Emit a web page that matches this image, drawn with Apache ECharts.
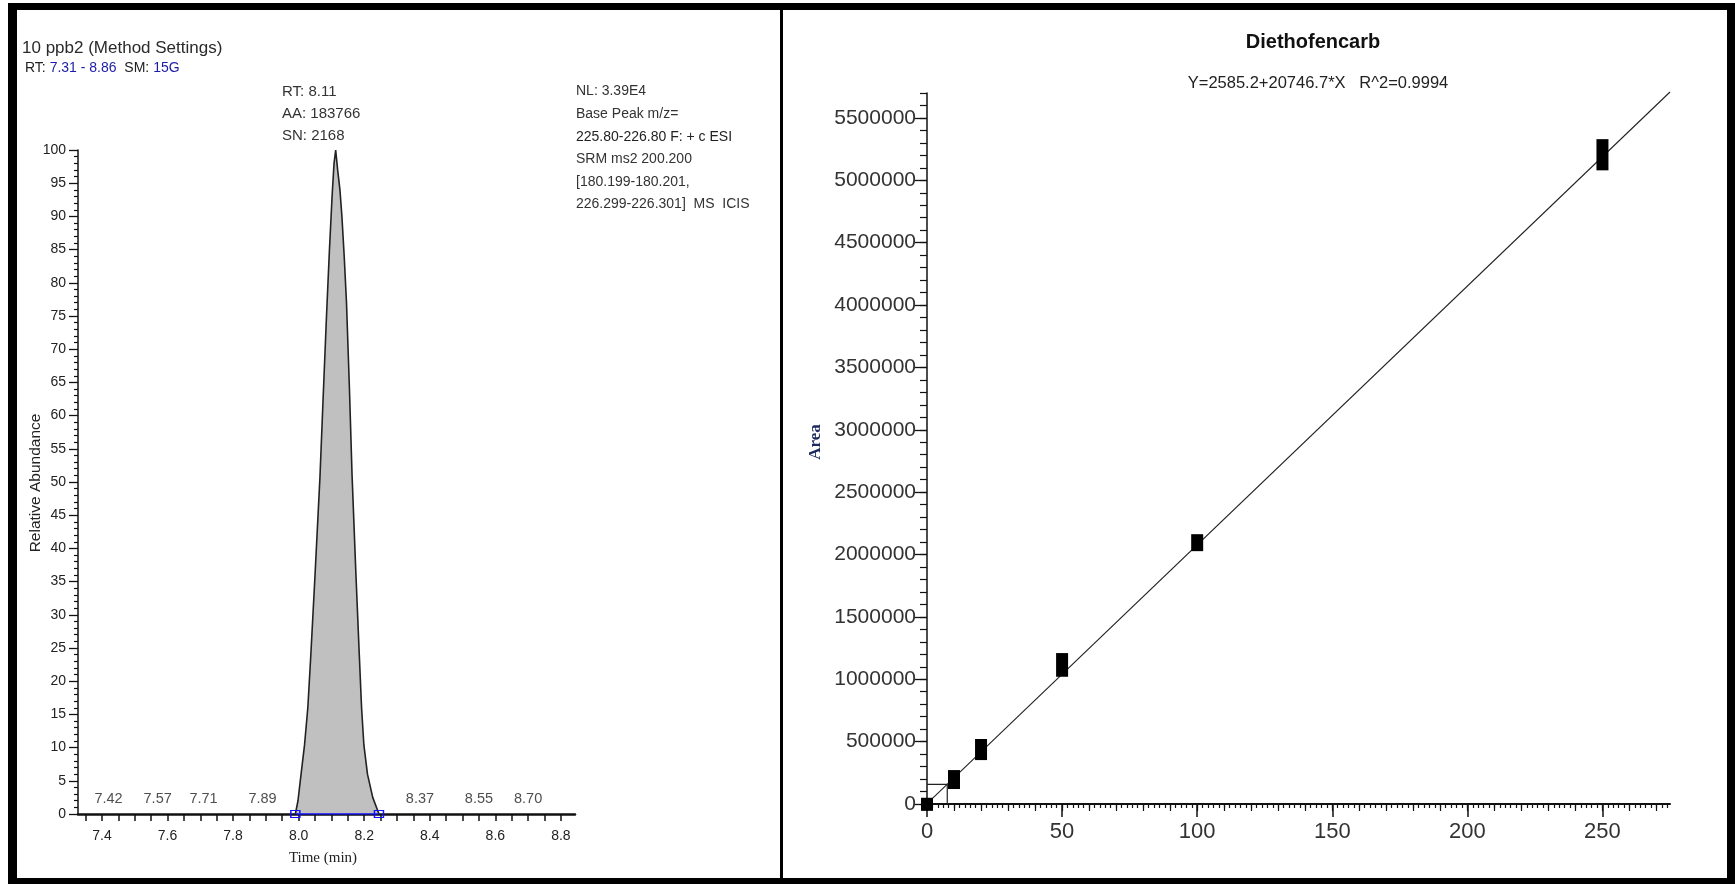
<!DOCTYPE html>
<html>
<head>
<meta charset="utf-8">
<script src="https://cdn.jsdelivr.net/npm/echarts@6/dist/echarts.min.js"></script>
<style>
  html, body { margin: 0; padding: 0; background: #fff; }
  #main { width: 1735px; height: 884px; }
</style>
</head>
<body>
<div id="main"></div>
<script>
// chromatogram peak (time in min, relative abundance %)
const peakTime = [7.990, 7.998, 8.005, 8.018, 8.028, 8.037, 8.050, 8.065, 8.075, 8.085, 8.094, 8.102, 8.108, 8.113,
                  8.119, 8.126, 8.132, 8.139, 8.146, 8.155, 8.163, 8.174, 8.185, 8.192, 8.199, 8.210, 8.226, 8.245];
const peakAbund = [0, 2, 5, 10.4, 16, 23.8, 36, 50.7, 63, 75, 85, 93, 98, 100,
                   97, 94, 90, 84, 77, 64, 51, 37, 24, 16, 10.4, 6, 2.5, 0];
// integration limits
const baseTime = [7.99, 8.245];
// small peak RT labels along the baseline
const rtNames = ['7.42', '7.57', '7.71', '7.89', '8.37', '8.55', '8.70'];
const rtTimes = [7.42, 7.57, 7.71, 7.89, 8.37, 8.55, 8.70];
const rtLevel = 2.2;
// left axis labels / ticks
const timeLabels = [7.4, 7.6, 7.8, 8.0, 8.2, 8.4, 8.6, 8.8];
const timeTicks = [7.35, 7.4, 7.45, 7.5, 7.55, 7.6, 7.65, 7.7, 7.75, 7.8, 7.85, 7.9, 7.95, 8.0, 8.05, 8.1, 8.15, 8.2, 8.25, 8.3, 8.35, 8.4, 8.45, 8.5, 8.55, 8.6, 8.65, 8.7, 8.75, 8.8];

// calibration curve
const calConc = [0, 10, 20, 50, 100, 250];
const areaLow = [-55000, 120000, 352000, 1020000, 2027000, 5080000];
const areaHigh = [50000, 272000, 521000, 1210000, 2163000, 5330000];
const fitX = [0, 275];
const fitY = [2585.2, 5708000];
const crossX = [0, 7.5, 7.5];
const crossY = [158000, 158000, 0];
// right axis labels / ticks
const concLabels = [0, 50, 100, 150, 200, 250];
const areaLabels = [0, 500000, 1000000, 1500000, 2000000, 2500000, 3000000, 3500000, 4000000, 4500000, 5000000, 5500000];

const SANS = "'Liberation Sans', Arial, sans-serif";
const SERIF = "'Liberation Serif', 'Times New Roman', serif";

function range(a, b, step) {
  // only used for plain tick positions
  const out = [];
  for (let v = a; v <= b + 1e-9; v += step) out.push(Math.round(v * 1000) / 1000);
  return out;
}

const chart = echarts.init(document.getElementById('main'), null, { renderer: 'canvas' });

const option = {
  backgroundColor: '#ffffff',
  animation: false,
  grid: [
    { left: 78, top: 150, width: 497, height: 664, outerBoundsMode: 'none' },
    { left: 927, top: 93, width: 743, height: 711, outerBoundsMode: 'none' }
  ],
  xAxis: [
    {
      gridIndex: 0, type: 'value', min: 7.327, max: 8.843, position: 'bottom',
      splitLine: { show: false },
      axisLine: { onZero: false, lineStyle: { color: '#111', width: 2.5 } },
      axisTick: { customValues: timeTicks, length: 7, lineStyle: { color: '#111', width: 1.5 } },
      axisLabel: { customValues: timeLabels, margin: 15, color: '#222', fontSize: 14, fontFamily: SANS,
        formatter: v => v.toFixed(1) }
    },
    {
      gridIndex: 1, type: 'value', min: 0, max: 275, position: 'bottom',
      splitLine: { show: false },
      axisLine: { onZero: false, lineStyle: { color: '#111', width: 2 } },
      axisTick: { customValues: range(0, 274, 2), length: 4, lineStyle: { color: '#111', width: 1.2 } },
      axisLabel: { show: false }
    },
    {
      gridIndex: 1, type: 'value', min: 0, max: 275, position: 'bottom',
      splitLine: { show: false },
      axisLine: { show: false, onZero: false },
      axisTick: { customValues: range(0, 270, 10), length: 7, lineStyle: { color: '#111', width: 1.2 } },
      axisLabel: { show: false }
    },
    {
      gridIndex: 1, type: 'value', min: 0, max: 275, position: 'bottom',
      splitLine: { show: false },
      axisLine: { show: false, onZero: false },
      axisTick: { customValues: concLabels, length: 13, lineStyle: { color: '#111', width: 1.5 } },
      axisLabel: { customValues: concLabels, margin: 17, color: '#333', fontSize: 22, fontFamily: SANS }
    }
  ],
  yAxis: [
    {
      gridIndex: 0, type: 'value', min: 0, max: 100, interval: 5, position: 'left',
      splitLine: { show: false },
      axisLine: { lineStyle: { color: '#111', width: 1.5 } },
      axisTick: { length: 9, lineStyle: { color: '#111', width: 1.3 } },
      minorTick: { show: true, splitNumber: 5, length: 4, lineStyle: { color: '#111', width: 1.2 } },
      axisLabel: { margin: 12, color: '#222', fontSize: 14, fontFamily: SANS }
    },
    {
      gridIndex: 1, type: 'value', min: 0, max: 5700000, position: 'left',
      splitLine: { show: false },
      axisLine: { lineStyle: { color: '#111', width: 1.5 } },
      axisTick: { customValues: range(0, 5700000, 100000), length: 7, lineStyle: { color: '#111', width: 1.2 } },
      axisLabel: { show: false }
    },
    {
      gridIndex: 1, type: 'value', min: 0, max: 5700000, position: 'left',
      splitLine: { show: false },
      axisLine: { show: false },
      axisTick: { customValues: areaLabels, length: 12, lineStyle: { color: '#111', width: 1.3 } },
      axisLabel: { customValues: areaLabels, margin: 11, color: '#333', fontSize: 21, fontFamily: SANS,
        formatter: v => String(v) }
    }
  ],
  series: [
    {
      name: 'peak', type: 'line', xAxisIndex: 0, yAxisIndex: 0,
      data: peakTime.map((t, i) => [t, peakAbund[i]]),
      symbol: 'none',
      lineStyle: { color: '#222', width: 1.6 },
      areaStyle: { color: '#c0c0c0', opacity: 1 },
      z: 3
    },
    {
      name: 'baseline', type: 'line', xAxisIndex: 0, yAxisIndex: 0,
      data: baseTime.map(t => [t, 0]),
      symbol: 'rect', symbolSize: [9, 7],
      lineStyle: { color: '#1010ff', width: 1.6 },
      itemStyle: { color: 'rgba(0,0,0,0)', borderColor: '#1010ff', borderWidth: 1.3 },
      z: 4
    },
    {
      name: 'rt', type: 'scatter', xAxisIndex: 0, yAxisIndex: 0,
      data: rtTimes.map((t, i) => ({ value: [t, rtLevel], name: rtNames[i] })),
      symbolSize: 0,
      label: { show: true, position: 'inside', formatter: p => p.name, color: '#222', fontSize: 14.5, fontFamily: SANS }
    },
    {
      name: 'fit', type: 'line', xAxisIndex: 1, yAxisIndex: 1,
      data: fitX.map((x, i) => [x, fitY[i]]),
      symbol: 'none', clip: false,
      lineStyle: { color: '#222', width: 1.1 }
    },
    {
      name: 'cross', type: 'line', xAxisIndex: 1, yAxisIndex: 1,
      data: crossX.map((x, i) => [x, crossY[i]]),
      symbol: 'none', clip: false,
      lineStyle: { color: '#222', width: 1.2 }
    },
    {
      name: 'replicates', type: 'custom', xAxisIndex: 1, yAxisIndex: 1,
      data: calConc.map((c, i) => [c, areaLow[i], areaHigh[i]]),
      clip: false,
      encode: { x: 0, y: [1, 2] },
      renderItem: function (params, api) {
        const top = api.coord([api.value(0), api.value(2)]);
        const bot = api.coord([api.value(0), api.value(1)]);
        return {
          type: 'rect',
          shape: { x: top[0] - 6, y: top[1], width: 12, height: bot[1] - top[1] },
          style: { fill: '#000' }
        };
      },
      z: 5
    }
  ],
  graphic: [
    // frame
    { type: 'rect', shape: { x: 8, y: 3, width: 1727, height: 7 }, style: { fill: '#000' } },
    { type: 'rect', shape: { x: 8, y: 3, width: 9, height: 881 }, style: { fill: '#000' } },
    { type: 'rect', shape: { x: 1727, y: 3, width: 8, height: 881 }, style: { fill: '#000' } },
    { type: 'rect', shape: { x: 8, y: 878, width: 1727, height: 6 }, style: { fill: '#000' } },
    { type: 'rect', shape: { x: 780, y: 3, width: 3, height: 881 }, style: { fill: '#000' } },
    // left panel texts
    { type: 'text', x: 22, y: 48, style: { text: '10 ppb2 (Method Settings)', fill: '#2a2a2a', font: '17px ' + SANS, verticalAlign: 'middle' } },
    { type: 'text', x: 25, y: 68, style: {
        text: '{k|RT: }{v|7.31 - 8.86}{k|  SM: }{v|15G}', verticalAlign: 'middle',
        rich: { k: { fill: '#222', font: '14px ' + SANS }, v: { fill: '#1c1ca8', font: '14px ' + SANS } } } },
    { type: 'text', x: 282, y: 92, style: { text: 'RT: 8.11', fill: '#333', font: '15px ' + SANS, verticalAlign: 'middle' } },
    { type: 'text', x: 282, y: 114, style: { text: 'AA: 183766', fill: '#333', font: '15px ' + SANS, verticalAlign: 'middle' } },
    { type: 'text', x: 282, y: 136, style: { text: 'SN: 2168', fill: '#333', font: '15px ' + SANS, verticalAlign: 'middle' } },
    { type: 'text', x: 576, y: 91, style: { text: 'NL: 3.39E4', fill: '#333', font: '14px ' + SANS, verticalAlign: 'middle' } },
    { type: 'text', x: 576, y: 114, style: { text: 'Base Peak m/z=', fill: '#333', font: '14px ' + SANS, verticalAlign: 'middle' } },
    { type: 'text', x: 576, y: 137, style: { text: '225.80-226.80 F: + c ESI', fill: '#222', font: '14px ' + SANS, verticalAlign: 'middle' } },
    { type: 'text', x: 576, y: 159, style: { text: 'SRM ms2 200.200', fill: '#333', font: '14px ' + SANS, verticalAlign: 'middle' } },
    { type: 'text', x: 576, y: 182, style: { text: '[180.199-180.201,', fill: '#333', font: '14px ' + SANS, verticalAlign: 'middle' } },
    { type: 'text', x: 576, y: 204, style: { text: '226.299-226.301]  MS  ICIS', fill: '#333', font: '14px ' + SANS, verticalAlign: 'middle' } },
    { type: 'text', x: 36, y: 483, rotation: Math.PI / 2, style: { text: 'Relative Abundance', fill: '#222', font: '15.5px ' + SANS, align: 'center', verticalAlign: 'middle' } },
    { type: 'text', x: 323, y: 858, style: { text: 'Time (min)', fill: '#222', font: '15px ' + SERIF, align: 'center', verticalAlign: 'middle' } },
    // right panel texts
    { type: 'text', x: 1313, y: 42, style: { text: 'Diethofencarb', fill: '#111', font: 'bold 20px ' + SANS, align: 'center', verticalAlign: 'middle' } },
    { type: 'text', x: 1318, y: 83, style: { text: 'Y=2585.2+20746.7*X   R^2=0.9994', fill: '#222', font: '16.5px ' + SANS, align: 'center', verticalAlign: 'middle' } },
    { type: 'text', x: 816, y: 442, rotation: Math.PI / 2, style: { text: 'Area', fill: '#1a2a5e', font: 'bold 17px ' + SERIF, align: 'center', verticalAlign: 'middle' } }
  ]
};

chart.setOption(option);
</script>
</body>
</html>
